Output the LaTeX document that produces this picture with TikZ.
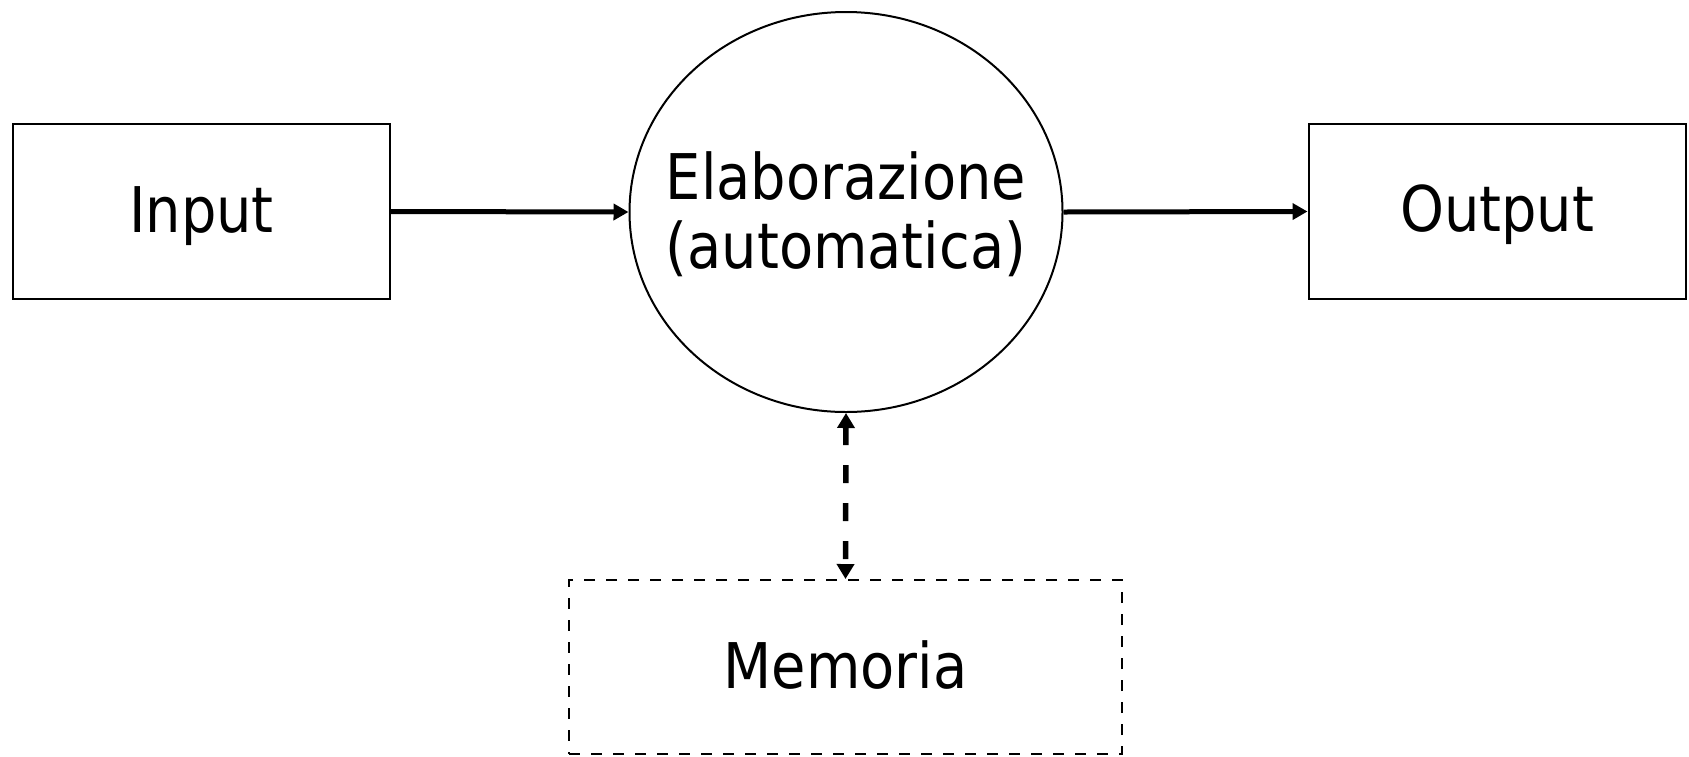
\documentclass[tikz,border=0pt]{standalone}
\usepackage{fontspec}
\setmainfont[FakeStretch=0.985]{DejaVu Sans Condensed}
\usetikzlibrary{shapes.geometric,arrows.meta}
\tikzset{
  box/.style={draw=black, line width=1pt, rectangle, minimum width=188.5pt, minimum height=87.5pt, inner sep=0pt},
  membox/.style={draw=black, line width=1pt, rectangle, dash pattern=on 5.5pt off 5.5pt, minimum width=276.5pt, minimum height=87pt, inner sep=0pt},
  proc/.style={draw=black, line width=1pt, ellipse, minimum width=216.5pt, minimum height=200pt, inner sep=0pt},
  lbl/.style={font=\fontsize{31.5}{34.5}\selectfont, align=center, inner sep=0pt, anchor=base},
  tip/.style={},
  flow/.style={line width=2.5pt, -{Triangle[length=7.5pt,width=8pt]}},
  memflow/.style={line width=2.75pt, dash pattern=on 9pt off 10pt, {Triangle[length=7.5pt,width=8.5pt]}-{Triangle[length=7.5pt,width=8.5pt]}}
}
\begin{document}
\begin{tikzpicture}[x=0.5pt,y=-0.5pt]
\fill[white] (0,0) rectangle (1689,756);
\useasboundingbox (0,0) rectangle (1689,756);
\node[box] (in) at (201.5,211.5) {};
\node[lbl] (intxt) at (201.5,232) {Input};
\node[box] (out) at (1497,211.5) {};
\node[lbl] (outtxt) at (1497,231) {Output};
\node[proc] (proc) at (846,212) {};
\node[lbl] (proctxt) at (846,268) {Elaborazione\\(automatica)};
\node[membox] (mem) at (845.5,667) {};
\node[lbl] (memtxt) at (845.5,688) {Memoria};
\draw[flow] (in.east) -- (proc.west);
\draw[flow] (proc.east) -- (out.west);
\draw[memflow] (proc.south) -- (mem.north);
\end{tikzpicture}
\end{document}
